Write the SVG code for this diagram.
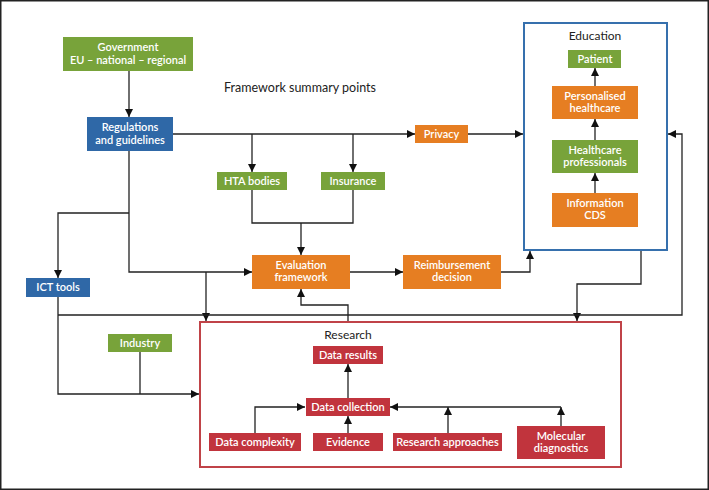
<svg xmlns="http://www.w3.org/2000/svg" width="709" height="490" viewBox="0 0 709 490">
<style>
.g{fill:#78a33a}
.o{fill:#e67e22}
.b{fill:#2f68a7}
.r{fill:#c1343d}
.t{font-family:Lato,"Liberation Sans",sans-serif;font-size:11px;font-weight:600;fill:#fff;text-anchor:middle}
.k{font-family:Lato,"Liberation Sans",sans-serif;font-size:12px;fill:#222;text-anchor:middle}
.c{fill:none;stroke:#222;stroke-width:1.3}
</style>
<defs>
<marker id="a" viewBox="0 0 10 10" refX="10" refY="5" markerWidth="8" markerHeight="8" markerUnits="userSpaceOnUse" orient="auto">
<path d="M0,0 L10,5 L0,10 z" fill="#111"/>
</marker>
</defs>
<rect x="0.75" y="0.75" width="707.5" height="488.5" fill="#fff" stroke="#222" stroke-width="1.5"/>

<g id="title"><text class="k" x="300" y="92" style="font-size:12.5px">Framework summary points</text></g>

<g id="education-box">
<rect x="524" y="23" width="143" height="227" fill="none" stroke="#3670ad" stroke-width="2"/>
<text class="k" x="595" y="40">Education</text>
</g>
<g id="research-box">
<rect x="200" y="322" width="421" height="145" fill="none" stroke="#c04348" stroke-width="2"/>
<text class="k" x="348" y="339">Research</text>
</g>

<g id="connectors">
<path class="c" d="M129,71 V117" marker-end="url(#a)"/>
<path class="c" d="M173,134 H415" marker-end="url(#a)"/>
<path class="c" d="M252,134 V172" marker-end="url(#a)"/>
<path class="c" d="M353,134 V172" marker-end="url(#a)"/>
<path class="c" d="M468,134 H523" marker-end="url(#a)"/>
<path class="c" d="M252,190 V223 H353 V190"/>
<path class="c" d="M301,223 V255" marker-end="url(#a)"/>
<path class="c" d="M129,151 V272 H252" marker-end="url(#a)"/>
<path class="c" d="M129,213 H58 V278" marker-end="url(#a)"/>
<path class="c" d="M206,272 V321" marker-end="url(#a)"/>
<path class="c" d="M350,272 H403" marker-end="url(#a)"/>
<path class="c" d="M501,272 H530 V251" marker-end="url(#a)"/>
<path class="c" d="M641,251 V284 H577 V321" marker-end="url(#a)"/>
<path class="c" d="M348,321 V305 H301 V289" marker-end="url(#a)"/>
<path class="c" d="M58,315 H682 V134 H668" marker-end="url(#a)"/>
<path class="c" d="M58,297 V394 H199" marker-end="url(#a)"/>
<path class="c" d="M140,352 V394"/>
<path class="c" d="M595,86 V68" marker-end="url(#a)"/>
<path class="c" d="M595,140 V119" marker-end="url(#a)"/>
<path class="c" d="M595,193 V173" marker-end="url(#a)"/>
<path class="c" d="M348,398 V364" marker-end="url(#a)"/>
<path class="c" d="M255,433 V407 H305" marker-end="url(#a)"/>
<path class="c" d="M348,433 V416" marker-end="url(#a)"/>
<path class="c" d="M448,433 V407" marker-end="url(#a)"/>
<path class="c" d="M561,426 V407" marker-end="url(#a)"/>
<path class="c" d="M561,407 H390" marker-end="url(#a)"/>
</g>

<g id="government"><rect class="g" x="63" y="37" width="130" height="34"/><text class="t" x="128" y="51">Government</text><text class="t" x="128" y="64">EU – national – regional</text></g>
<g id="regulations"><rect class="b" x="87" y="117" width="86" height="34"/><text class="t" x="130" y="131">Regulations</text><text class="t" x="130" y="144">and guidelines</text></g>
<g id="hta"><rect class="g" x="217" y="172" width="70" height="18"/><text class="t" x="252" y="185">HTA bodies</text></g>
<g id="insurance"><rect class="g" x="321" y="172" width="64" height="18"/><text class="t" x="353" y="185">Insurance</text></g>
<g id="privacy"><rect class="o" x="415" y="125" width="53" height="18"/><text class="t" x="441.5" y="138">Privacy</text></g>
<g id="patient"><rect class="g" x="568" y="50" width="53" height="18"/><text class="t" x="595" y="63">Patient</text></g>
<g id="personalised"><rect class="o" x="552" y="86" width="86" height="33"/><text class="t" x="595" y="100">Personalised</text><text class="t" x="595" y="112">healthcare</text></g>
<g id="professionals"><rect class="g" x="552" y="140" width="86" height="33"/><text class="t" x="595" y="154">Healthcare</text><text class="t" x="595" y="166">professionals</text></g>
<g id="information"><rect class="o" x="552" y="193" width="86" height="34"/><text class="t" x="595" y="207">Information</text><text class="t" x="595" y="219">CDS</text></g>
<g id="ict"><rect class="b" x="26" y="278" width="64" height="19"/><text class="t" x="58" y="291">ICT tools</text></g>
<g id="evaluation"><rect class="o" x="252" y="255" width="98" height="34"/><text class="t" x="301" y="269">Evaluation</text><text class="t" x="301" y="281">framework</text></g>
<g id="reimbursement"><rect class="o" x="403" y="255" width="98" height="34"/><text class="t" x="452" y="269">Reimbursement</text><text class="t" x="452" y="281">decision</text></g>
<g id="industry"><rect class="g" x="108" y="334" width="64" height="18"/><text class="t" x="140" y="347">Industry</text></g>
<g id="data-results"><rect class="r" x="313" y="346" width="70" height="18"/><text class="t" x="348" y="359">Data results</text></g>
<g id="data-collection"><rect class="r" x="306" y="398" width="84" height="18"/><text class="t" x="348" y="411">Data collection</text></g>
<g id="data-complexity"><rect class="r" x="209" y="433" width="92" height="18"/><text class="t" x="255" y="446">Data complexity</text></g>
<g id="evidence"><rect class="r" x="313" y="433" width="70" height="18"/><text class="t" x="348" y="446">Evidence</text></g>
<g id="research-approaches"><rect class="r" x="393" y="433" width="109" height="18"/><text class="t" x="447.5" y="446">Research approaches</text></g>
<g id="molecular"><rect class="r" x="517" y="426" width="88" height="33"/><text class="t" x="561" y="440">Molecular</text><text class="t" x="561" y="452">diagnostics</text></g>
</svg>
